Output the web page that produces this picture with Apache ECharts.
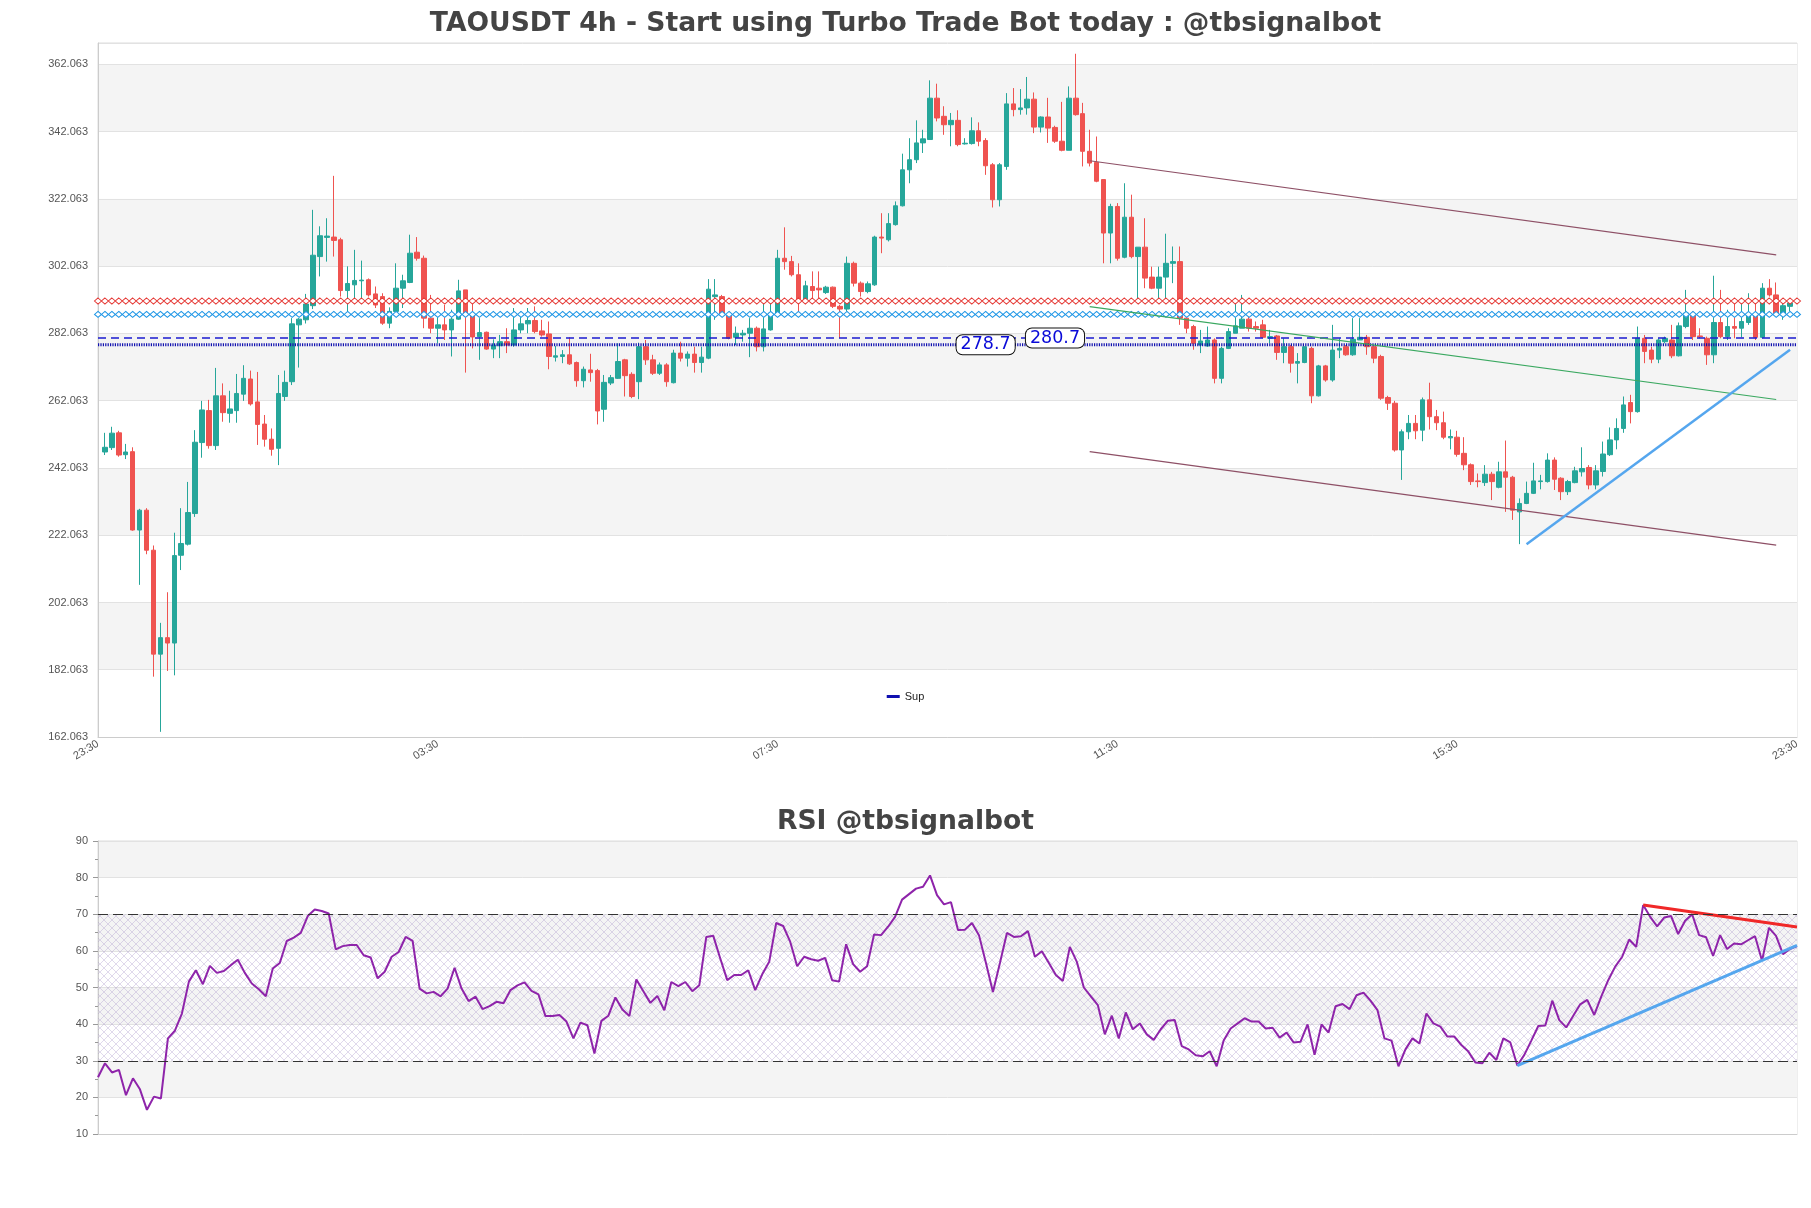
<!DOCTYPE html>
<html><head><meta charset="utf-8">
<script src="https://cdn.jsdelivr.net/npm/echarts/dist/echarts.min.js"></script>
<style>html,body{margin:0;padding:0;background:#fff}#c{width:1811px;height:1208px}</style>
</head><body><div id="c"></div>
<script>
// ---------- data ----------
const tickLabels = ['23:30','03:30','07:30','11:30','15:30','23:30'];
const tickStep = 49;

const opens = [246.8,248.1,252.5,246.0,246.9,223.6,229.5,217.6,186.7,191.6,190.0,216.1,219.4,228.5,249.6,259.1,248.7,263.5,258.3,259.1,
264.0,268.5,261.7,255.1,250.6,247.9,263.3,267.7,284.6,286.1,290.3,304.9,310.6,310.7,309.9,294.8,296.5,297.7,298.0,293.8,
293.0,285.1,288.6,295.5,297.2,306.2,304.4,286.6,283.6,284.6,283.1,286.3,295.0,287.3,281.1,282.4,277.4,278.4,279.6,278.6,
283.1,284.9,285.9,282.8,281.9,275.0,275.2,275.7,273.4,268.0,271.2,271.0,259.5,267.3,268.7,274.2,269.9,267.7,278.1,274.2,
270.2,272.7,267.4,276.2,274.7,275.9,273.4,274.7,293.0,293.0,287.6,280.9,281.6,282.1,283.6,278.1,283.1,288.1,304.4,303.4,
299.5,292.2,296.0,295.5,294.2,295.8,290.1,289.3,302.9,297.0,294.5,296.5,310.7,309.9,314.4,320.0,330.7,333.7,338.7,339.7,
352.0,346.6,344.1,345.4,338.4,338.5,342.3,339.4,332.2,321.8,331.7,350.3,348.6,349.1,351.7,343.4,346.4,343.3,339.2,336.5,
352.0,347.4,336.2,332.9,327.8,311.9,319.8,304.7,316.6,304.9,307.7,298.8,295.5,298.8,302.9,303.4,286.6,284.1,278.6,278.3,
280.1,268.7,277.6,282.1,283.6,286.3,284.1,284.6,280.6,281.3,276.4,278.1,273.2,273.4,277.6,263.5,272.4,268.2,277.1,278.1,
275.7,280.1,280.9,278.1,275.2,263.0,261.3,247.4,252.8,255.3,253.3,262.3,257.3,255.5,251.0,251.2,246.4,243.0,238.2,237.7,
240.2,236.3,240.9,239.3,229.0,231.5,234.5,238.0,238.0,244.4,239.0,235.0,237.7,240.9,242.2,237.0,241.0,246.0,250.4,253.8,
261.5,258.8,280.6,277.1,274.4,279.6,280.1,275.4,284.1,287.6,281.3,280.6,275.7,285.3,281.1,284.1,283.6,285.3,287.3,280.9,
295.5,293.5,288.1,290.1];
const closes = [248.2,252.4,245.9,246.8,223.6,229.5,217.6,186.7,191.6,190.0,216.0,219.6,228.8,249.7,259.3,248.7,263.5,258.5,259.6,264.2,
268.7,261.1,255.0,250.6,247.6,264.2,267.5,284.9,286.3,290.8,305.3,311.1,311.0,309.7,294.8,296.9,297.8,297.9,293.5,290.5,
285.1,288.6,295.5,297.7,305.9,304.4,286.6,283.6,284.6,283.1,286.3,294.7,287.3,281.0,282.3,277.4,278.6,279.6,278.6,283.1,
284.9,285.9,282.6,281.6,275.2,275.4,275.7,273.0,268.0,271.4,270.4,259.0,267.5,268.9,273.7,269.5,263.3,278.1,274.2,270.2,
272.7,267.7,276.2,274.7,275.9,273.4,275.0,295.2,293.5,287.6,280.6,282.1,282.1,283.6,278.1,283.4,288.1,304.4,303.4,299.5,
292.2,296.2,294.8,295.0,295.8,290.1,289.3,302.9,297.0,294.5,296.8,310.7,310.4,314.7,320.0,330.7,333.7,338.7,339.9,352.0,
346.1,344.1,345.4,338.2,338.6,342.3,339.2,331.9,321.8,332.2,350.3,348.6,349.1,351.7,343.4,346.4,343.1,339.2,336.5,352.0,
347.1,336.2,332.7,327.3,311.9,319.8,304.4,316.6,304.9,307.7,298.5,295.5,298.8,302.9,303.4,286.6,283.6,279.1,279.8,280.1,
268.7,277.6,282.6,284.3,286.3,283.6,283.6,280.9,281.1,276.4,278.1,273.2,273.7,278.1,263.5,272.4,268.2,277.1,277.6,275.7,
280.3,280.9,278.1,274.7,262.8,261.3,247.4,252.8,255.3,253.1,262.3,257.3,255.5,251.2,251.4,246.1,243.0,238.0,238.0,240.2,
238.0,240.9,239.3,229.5,231.5,234.5,238.2,238.2,244.4,238.7,235.0,238.0,241.2,241.9,237.0,241.2,246.2,250.4,253.8,260.8,
258.8,280.6,276.7,274.4,280.1,280.6,275.4,284.3,288.1,281.1,281.1,275.7,285.3,281.1,284.1,283.6,285.6,287.3,280.9,295.5,
293.5,288.1,290.3,291.1];
const lows = [245.9,247.4,245.4,244.7,223.4,207.3,216.4,180.0,163.6,181.7,180.4,211.7,219.0,227.5,245.1,247.8,247.4,255.8,255.5,255.5,
262.0,260.6,248.9,248.4,245.7,242.9,262.0,266.7,271.9,285.0,289.3,299.0,303.4,304.9,293.0,288.6,292.0,292.0,293.0,289.6,
284.6,283.6,288.5,289.6,297.0,303.7,283.6,282.1,279.1,280.1,275.2,286.1,270.4,277.6,274.2,277.2,274.7,274.7,276.2,278.1,
282.1,282.1,282.1,281.1,271.4,273.7,273.2,272.7,266.2,266.0,267.7,255.0,255.8,266.7,268.5,263.3,262.8,262.5,272.7,269.7,
269.7,266.2,267.2,273.7,272.2,270.4,270.4,274.4,286.1,287.1,280.3,278.6,279.6,275.0,276.7,276.7,282.9,287.6,301.0,299.0,
288.6,291.5,292.5,292.5,293.8,289.6,280.6,288.6,296.0,293.0,294.0,296.2,305.9,309.4,314.1,319.8,326.7,332.7,335.7,339.7,
345.1,341.1,337.7,337.7,338.2,338.2,337.7,329.2,319.5,319.8,330.7,346.6,347.1,347.1,341.6,341.8,338.7,338.7,336.2,336.5,
346.8,331.7,331.7,327.0,302.9,302.9,303.7,304.4,304.4,291.5,295.5,295.2,292.0,292.5,297.0,284.6,282.1,277.2,276.2,278.1,
267.2,267.2,277.4,282.1,283.6,282.6,282.6,280.6,279.1,274.2,273.2,270.4,267.2,273.2,261.3,263.3,267.7,267.7,274.7,275.4,
275.4,280.1,275.7,273.2,262.3,259.3,246.9,238.5,250.6,250.6,250.0,253.5,253.3,250.6,247.6,245.4,241.4,237.0,236.3,236.7,
232.5,236.0,229.0,226.6,219.4,231.3,234.3,235.7,237.7,235.5,232.5,234.0,237.5,239.5,235.7,235.7,239.5,245.6,247.6,252.5,
255.3,258.5,273.2,273.2,273.2,279.1,274.7,275.2,283.6,280.1,280.6,272.7,273.2,280.6,280.1,280.6,280.9,284.6,280.1,280.6,
293.0,287.3,286.1,288.6];
const highs = [252.5,254.3,253.1,249.2,248.2,229.9,230.1,219.0,196.0,205.1,222.8,230.1,237.9,253.3,262.0,262.3,271.8,267.2,265.0,270.0,
272.6,271.0,270.6,257.8,253.8,269.7,271.0,286.6,286.6,293.8,318.8,313.9,316.3,328.9,310.5,302.0,306.9,303.7,298.4,296.0,
294.0,289.8,302.9,299.5,311.4,310.7,305.2,293.5,288.6,290.5,289.1,298.0,295.0,291.0,286.6,282.6,280.3,281.6,283.6,289.6,
288.6,289.6,290.1,286.1,285.6,278.3,277.1,280.9,273.7,272.2,276.0,271.5,269.7,269.7,279.1,274.5,270.5,279.3,280.1,275.7,
273.4,273.2,277.2,279.6,276.7,278.1,278.1,298.2,298.2,293.5,288.1,284.1,283.1,286.6,284.1,291.1,291.1,306.9,313.6,305.1,
302.9,297.7,300.5,300.5,296.2,296.0,290.5,304.9,303.4,297.5,297.5,311.1,317.8,317.8,321.3,335.5,340.1,345.4,342.6,357.3,
356.3,349.6,347.6,348.4,340.1,346.3,344.8,340.1,332.7,332.7,353.5,355.0,354.7,358.3,353.7,346.6,352.1,343.8,350.9,355.5,
365.2,350.6,342.6,340.6,327.8,320.6,320.8,326.7,323.3,307.7,316.3,301.9,301.9,311.7,307.9,307.9,287.6,284.6,283.1,284.1,
280.6,278.1,283.6,292.5,293.5,287.1,285.6,286.1,283.1,281.6,280.6,278.6,276.2,278.1,278.1,272.7,272.7,284.6,280.6,278.6,
286.6,286.6,281.6,278.6,275.7,263.5,262.0,253.5,257.8,257.8,263.0,267.4,259.3,258.8,253.5,253.1,251.2,243.4,240.4,242.9,
240.9,243.9,250.2,239.7,233.0,238.0,243.6,240.0,246.4,245.2,239.3,238.5,242.4,248.2,242.9,242.9,249.9,254.1,256.8,263.3,
263.8,284.1,281.6,278.1,280.6,281.1,284.6,285.3,295.0,288.6,283.6,281.1,299.2,295.0,289.1,291.1,291.1,294.0,292.5,297.0,
298.2,297.2,291.5,291.5];

const rsiValues = [25.5,29.3,26.8,27.5,20.6,25.2,22.2,16.6,20.2,19.7,36.1,38.2,42.9,51.6,54.7,50.9,55.9,54.0,54.5,56.1,
57.6,54.0,51.1,49.5,47.6,55.2,56.7,62.7,63.6,64.9,69.5,71.3,70.9,70.2,60.4,61.3,61.6,61.6,58.8,58.2,
52.5,54.3,58.4,59.7,63.8,62.7,49.7,48.4,48.8,47.6,49.7,55.4,49.7,46.3,47.5,44.1,44.9,46.1,45.7,49.3,
50.6,51.4,49.1,48.1,42.2,42.2,42.5,40.7,36.1,40.4,39.7,32.0,40.9,42.3,47.3,44.0,42.2,52.2,49.0,45.8,
47.7,43.8,51.5,50.4,51.5,49.0,50.6,63.8,64.1,57.9,52.0,53.4,53.4,54.7,49.3,53.6,57.0,67.6,66.8,62.5,
55.8,58.4,57.7,57.3,58.1,52.0,51.6,61.8,56.4,54.3,55.8,64.5,64.3,66.6,69.3,74.0,75.5,77.0,77.5,80.6,
75.2,72.7,73.3,65.7,65.8,67.6,64.3,56.7,48.8,56.7,64.9,63.8,64.0,65.4,58.4,59.9,56.7,53.4,51.8,61.1,
57.0,50.0,47.6,45.2,37.2,42.3,36.1,43.2,38.6,40.2,37.2,35.7,38.6,40.9,41.1,34.0,33.1,31.5,31.2,32.6,
28.5,35.5,38.8,40.2,41.6,40.7,40.7,38.8,39.0,36.3,37.7,35.0,35.2,39.9,31.6,39.9,37.7,44.9,45.5,44.1,
47.9,48.6,46.4,43.8,36.1,35.5,28.5,33.1,36.1,34.7,42.9,40.2,39.3,36.6,36.6,34.3,32.5,29.5,29.3,32.2,
30.2,36.1,35.0,28.7,31.6,35.5,39.5,39.6,46.4,41.1,39.1,42.3,45.4,46.6,42.5,47.5,52.0,55.7,58.4,63.1,
61.1,72.5,69.3,66.7,69.1,69.5,64.6,68.2,70.0,64.3,63.7,58.6,64.3,60.5,62.0,61.8,62.9,64.0,57.3,66.3,
64.1,59.1,60.5,61.3];

// horizontal levels
const levelRed = 291.7;
const levelCyan = 287.7;
const levelDash = 280.7;
const levelSup = 278.7;
const levelTags = [[128, 278.7], [138, 280.7]];

// sloped lines (main chart: [slot, price])
const channelTop = [[143, 333.4], [242, 305.4]];
const channelBottom = [[143, 246.9], [242, 219.1]];
const channelMid = [[143, 290.0], [242, 262.4]];
const supportRise = [[206, 219.4], [244, 277.2]];
// RSI trend lines ([bar index, rsi])
const rsiFall = [[221, 72.5], [243, 66.5]];
const rsiRise = [[203, 28.7], [243, 61.5]];
const rsiBands = [30, 70];

// axes
const priceMin = 162.063, priceMax = 368.4, priceStep = 20;

// ---------- build ----------
const nSlots = opens.length + 2;
const slots = Array.from({length: nSlots}, (_, k) => String(k));
const rsiCats = rsiValues.map((_, k) => String(k));
const candleData = opens.map((o, i) => [i + 1, o, closes[i], lows[i], highs[i]]);
const flat = v => slots.map((_, k) => [k, v]);
const priceLabel = v => (priceMin + Math.round((v - priceMin) / priceStep) * priceStep).toFixed(3);

function hatch() {
  const c = document.createElement('canvas'); c.width = 8; c.height = 8;
  const g = c.getContext('2d');
  g.strokeStyle = 'rgba(165,145,200,0.35)'; g.lineWidth = 1;
  g.beginPath(); g.moveTo(0, 0); g.lineTo(8, 8); g.moveTo(8, 0); g.lineTo(0, 8); g.stroke();
  return c;
}

const chart = echarts.init(document.getElementById('c'), null, {renderer: 'canvas'});
const axisText = {color: '#555', fontSize: 11};
const chainSeries = (v, col) => ({
  type: 'line', xAxisIndex: 0, yAxisIndex: 0, data: flat(v),
  showSymbol: true, showAllSymbol: true, symbol: 'diamond', symbolSize: [7, 6],
  itemStyle: {color: '#fff', borderColor: col, borderWidth: 1},
  lineStyle: {width: 0, opacity: 0}, silent: true, z: 3
});
const seg = (d, col, w, xi) => ({
  type: 'line', xAxisIndex: xi, yAxisIndex: xi, data: d, symbol: 'none',
  lineStyle: {color: col, width: w}, silent: true, z: 4
});
const titleStyle = {fontFamily: 'DejaVu Sans', fontWeight: 'bold', fontSize: 26.6, color: '#444'};

chart.setOption({
  animation: false,
  backgroundColor: '#fff',
  title: [
    {text: 'TAOUSDT 4h - Start using Turbo Trade Bot today : @tbsignalbot', left: 'center', top: 6, textStyle: titleStyle},
    {text: 'RSI @tbsignalbot', left: 'center', top: 804, textStyle: titleStyle}
  ],
  legend: {data: [{name: 'Sup', icon: 'rect'}], left: 'center', top: 686, itemWidth: 13, itemHeight: 3,
           textStyle: {color: '#222', fontSize: 11}},
  grid: [
    {left: 98, top: 43, width: 1699, height: 694, show: true, borderColor: '#ddd', borderWidth: 1},
    {left: 98, top: 841, width: 1699, height: 293, show: true, borderColor: '#ddd', borderWidth: 1}
  ],
  xAxis: [
    {type: 'category', gridIndex: 0, data: slots, boundaryGap: false,
     axisLine: {lineStyle: {color: '#ccc'}}, axisTick: {show: false}, splitLine: {show: false},
     axisLabel: Object.assign({}, axisText, {rotate: 31, margin: 6, interval: tickStep - 1,
       formatter: (v, idx) => (idx % tickStep === 0 ? (tickLabels[idx / tickStep] || '') : '')})},
    {type: 'category', gridIndex: 1, data: rsiCats, boundaryGap: false,
     axisLine: {lineStyle: {color: '#ccc'}}, axisTick: {show: false}, axisLabel: {show: false}, splitLine: {show: false}}
  ],
  yAxis: [
    {type: 'value', gridIndex: 0, min: priceMin, max: priceMax, interval: priceStep,
     axisLine: {show: true, lineStyle: {color: '#ccc'}}, axisTick: {show: false},
     axisLabel: Object.assign({}, axisText, {margin: 10, showMaxLabel: false, formatter: priceLabel}),
     splitLine: {lineStyle: {color: '#e2e2e2'}},
     splitArea: {show: true, areaStyle: {color: ['#ffffff', '#f4f4f4']}}},
    {type: 'value', gridIndex: 1, min: 10, max: 90, interval: 10,
     axisLine: {show: true, lineStyle: {color: '#ccc'}},
     axisTick: {show: true, length: 5, lineStyle: {color: '#999'}},
     minorTick: {show: true, splitNumber: 2, length: 3, lineStyle: {color: '#999'}},
     axisLabel: Object.assign({}, axisText, {margin: 10}),
     splitLine: {lineStyle: {color: '#e2e2e2'}},
     splitArea: {show: true, areaStyle: {color: ['#ffffff', '#f4f4f4']}}}
  ],
  series: [
    {type: 'candlestick', name: 'TAOUSDT', xAxisIndex: 0, yAxisIndex: 0, data: candleData,
     encode: {x: 0, y: [1, 2, 3, 4]}, barWidth: 5,
     itemStyle: {color: '#26a69a', color0: '#ef5350', borderColor: '#26a69a', borderColor0: '#ef5350', borderWidth: 1}},
    chainSeries(levelRed, '#e53935'),
    chainSeries(levelCyan, '#1e96e6'),
    {type: 'line', xAxisIndex: 0, yAxisIndex: 0, data: flat(levelDash), symbol: 'none', silent: true, z: 3,
     lineStyle: {color: '#1a1ad0', width: 1.5, type: [8, 5]}},
    {type: 'line', name: 'Sup', xAxisIndex: 0, yAxisIndex: 0, data: flat(levelSup), symbol: 'none', z: 3,
     color: '#1010b0', lineStyle: {color: '#1010b0', width: 3, type: [1.2, 1.2]},
     markPoint: {symbol: 'rect', symbolSize: 1, itemStyle: {color: 'rgba(0,0,0,0)'}, silent: true,
       label: {show: true, position: 'inside', formatter: p => p.value.toFixed(1), color: '#0a0ad8', fontSize: 17.5,
               fontFamily: 'DejaVu Sans', backgroundColor: '#fff', borderColor: '#111', borderWidth: 1,
               borderRadius: 6, padding: [1, 4, 0, 4]},
       data: levelTags.map(t => ({coord: t, value: t[1]}))}},
    seg(channelTop, '#8e5066', 1.2, 0),
    seg(channelBottom, '#8e5066', 1.2, 0),
    seg(channelMid, '#3aa860', 1.2, 0),
    seg(supportRise, '#55a6ee', 2.5, 0),
    {type: 'line', name: 'RSI', xAxisIndex: 1, yAxisIndex: 1, data: rsiValues, symbol: 'none', z: 3,
     lineStyle: {color: '#8e24aa', width: 2},
     markArea: {silent: true, itemStyle: {color: {image: hatch(), repeat: 'repeat'}},
                data: [[{yAxis: rsiBands[0]}, {yAxis: rsiBands[1]}]]},
     markLine: {silent: true, symbol: 'none', label: {show: false},
                lineStyle: {color: '#333', width: 1.2, type: [10, 5]},
                data: rsiBands.map(b => ({yAxis: b}))}},
    seg(rsiFall, '#f02828', 3, 1),
    seg(rsiRise, '#55a6ee', 3, 1)
  ]
});
</script></body></html>
